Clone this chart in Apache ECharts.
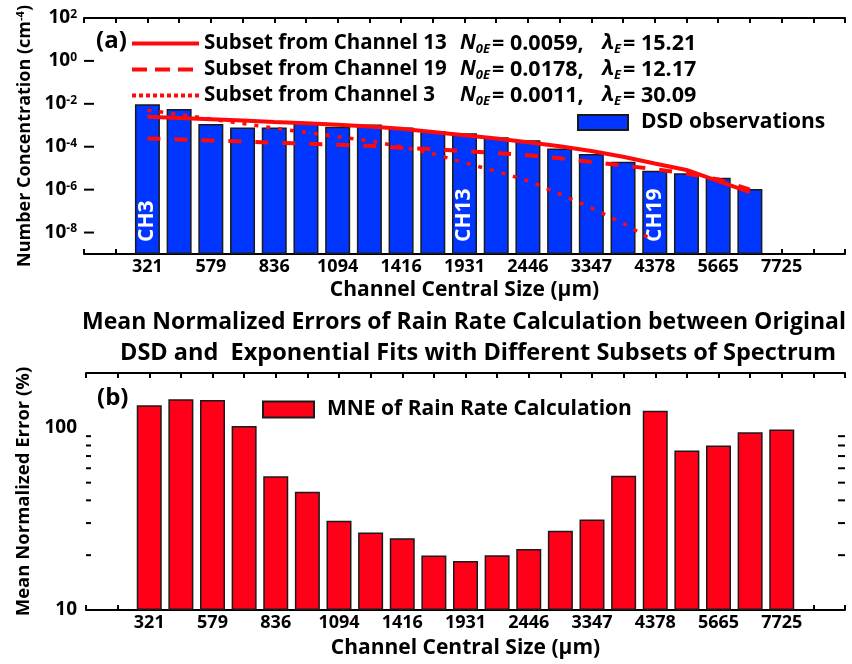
<!DOCTYPE html>
<html>
<head>
<meta charset="utf-8">
<script src="https://cdn.jsdelivr.net/npm/echarts@6/dist/echarts.min.js"></script>
<style>
  html, body { margin: 0; padding: 0; background: #fff; }
  #chart { width: 852px; height: 664px; }
</style>
</head>
<body>
<div id="chart"></div>
<script>
// Channel central sizes (µm) printed under every other channel slot
const sizeTicks = ['321', '579', '836', '1094', '1416', '1931', '2446', '3347', '4378', '5665', '7725'];

// Observed drop size distribution, channels 3..22 (cm^-4)
const dsdObs = [9.5e-3, 5.7e-3, 1.14e-3, 7.8e-4, 7.8e-4, 1.3e-3, 8.5e-4, 1.1e-3, 7.8e-4, 5.4e-4,
                4.2e-4, 2.8e-4, 2.0e-4, 8.3e-5, 4.6e-5, 2.0e-5, 7.6e-6, 5.8e-6, 3.6e-6, 1.07e-6];

// Exponential fits evaluated at channels 3..22 (cm^-4)
const fitCh13 = [2.51e-3, 2.19e-3, 1.91e-3, 1.66e-3, 1.41e-3, 1.23e-3, 1.05e-3, 8.7e-4, 6.9e-4, 4.9e-4,
                 3.4e-4, 2.4e-4, 1.6e-4, 1.05e-4, 6.3e-5, 3.4e-5, 1.66e-5, 8.3e-6, 2.5e-6, 7.6e-7];
const fitCh19 = [2.45e-4, 2.19e-4, 1.95e-4, 1.74e-4, 1.55e-4, 1.38e-4, 1.23e-4, 1.10e-4, 8.9e-5, 7.8e-5,
                 6.2e-5, 5.1e-5, 4.0e-5, 2.9e-5, 1.95e-5, 1.32e-5, 9.1e-6, 5.6e-6, 3.0e-6, 1.0e-6];
const fitCh3  = [5.0e-3, 3.2e-3, 1.95e-3, 1.2e-3, 7.4e-4, 4.7e-4, 2.95e-4, 1.9e-4, 1.0e-4, 4.7e-5,
                 1.8e-5, 7.1e-6, 2.6e-6, 6.3e-7, 1.4e-7, 2.7e-8, 4.0e-9];

// Legend text for the three fits
const fitNames  = ['Subset from Channel 13', 'Subset from Channel 19', 'Subset from Channel 3'];
const fitN0     = ['0.0059', '0.0178', '0.0011'];
const fitLambda = ['15.21', '12.17', '30.09'];

// Mean normalized error of rain rate (%), channels 3..23
const mneRainRate = [133, 143.6, 142, 102.5, 54.3, 44.6, 30.9, 26.6, 24.8, 19.9, 18.6,
                     20.0, 21.6, 27.2, 31.4, 54.6, 124, 75.2, 80, 94.7, 98];

// Channels marked inside their bars
const labeledChannels = [3, 13, 19];

// Decoration ticks for the log axes
const concMajorTicks = [1e2, 1, 1e-2, 1e-4, 1e-6, 1e-8];
const errMinorTicks = [20, 30, 40, 50, 60, 70, 80, 90];

const FONT = '"Open Sans", "Noto Sans", "DejaVu Sans", sans-serif';
const INK = '#000';
const BLUE = '#0036ff';
const RED_BAR = '#ff0018';
const RED_LINE = '#ff0a0a';

// 25 slots along x: one spare slot on each side, then one slot per channel
const slots = Array.from({ length: 25 }, (_, s) => 's' + s);
const slotLabel = {};
sizeTicks.forEach((t, k) => { slotLabel[slots[2 * k + 2]] = t; });
const FIRST_CHANNEL_SLOT = 2; // channel 3 sits in slot 2

function onSlots(values) {
  const out = slots.map(() => '-');
  values.forEach((v, i) => { out[FIRST_CHANNEL_SLOT + i] = v; });
  return out;
}

const dsdData = onSlots(dsdObs.map((v, i) => {
  const ch = i + 3;
  if (!labeledChannels.includes(ch)) return v;
  return { value: v, label: { show: true, formatter: 'CH' + ch } };
}));

function supLabel(v) {
  const e = Math.round(Math.log10(v));
  if (e % 2 !== 0) return '';
  return '{b|10}{sup|' + e + '}';
}

function xAxisCfg(gridIndex, position, withLabels, name, nameGap) {
  return {
    type: 'category', gridIndex, position, data: slots, boundaryGap: false,
    axisLine: { onZero: false, lineStyle: { color: INK, width: 2 } },
    axisTick: { inside: true, length: 5, interval: 0, lineStyle: { color: INK, width: 2 } },
    axisLabel: withLabels ? {
      interval: 0, margin: 4, formatter: s => slotLabel[s] || '',
      fontFamily: FONT, fontWeight: 'bold', fontSize: 18, color: INK
    } : { show: false },
    splitLine: { show: false },
    name: name || '', nameLocation: 'middle', nameGap: nameGap || 0,
    nameTextStyle: { fontFamily: FONT, fontWeight: 'bold', fontSize: 21, color: INK }
  };
}

function tickMarks(gridIdx, values, leftLen, rightLen) {
  return {
    type: 'custom', xAxisIndex: gridIdx * 2, yAxisIndex: gridIdx * 2, silent: true, clip: false, z: 6,
    data: values.map(v => [slots[0], v]),
    renderItem(params, api) {
      const cs = params.coordSys;
      const y = api.coord([api.value(0), api.value(1)])[1];
      const children = [];
      if (leftLen) children.push({ type: 'line', shape: { x1: cs.x, y1: y, x2: cs.x + leftLen, y2: y },
        style: { stroke: INK, lineWidth: 2 } });
      if (rightLen) children.push({ type: 'line', shape: { x1: cs.x + cs.width, y1: y, x2: cs.x + cs.width - rightLen, y2: y },
        style: { stroke: INK, lineWidth: 2 } });
      return { type: 'group', children };
    }
  };
}

const textBase = { fontFamily: FONT, fontWeight: 'bold', color: INK };

const lineDefs = [
  { data: fitCh13, type: 'solid', width: 4, legendType: 'solid' },
  { data: fitCh19, type: [13, 14], width: 4, legendType: [15, 8] },
  { data: fitCh3, type: [4, 8], width: 3.5, legendType: [4, 3] }
];

const chart = echarts.init(document.getElementById('chart'), null, { renderer: 'canvas' });

chart.setOption({
  backgroundColor: '#fff',
  animation: false,
  title: [
    { text: '(a)', left: 96, top: 29, padding: 0, textStyle: Object.assign({ fontSize: 24 }, textBase) },
    { text: '(b)', left: 97, top: 386, padding: 0, textStyle: Object.assign({ fontSize: 24 }, textBase) },
    { text: 'Mean Normalized Errors of Rain Rate Calculation between Original', left: 82, top: 311, padding: 0,
      textStyle: Object.assign({ fontSize: 23 }, textBase) },
    { text: 'DSD and  Exponential Fits with Different Subsets of Spectrum', left: 120, top: 341, padding: 0,
      textStyle: Object.assign({ fontSize: 23.5 }, textBase) }
  ],
  grid: [
    { left: 84, right: 7, top: 18, height: 236 },
    { left: 86, right: 7, top: 373, height: 237 }
  ],
  legend: [
    {
      data: fitNames.map((n, i) => ({
        name: n,
        itemStyle: { opacity: 0 },
        lineStyle: { type: lineDefs[i].legendType, width: 4, color: RED_LINE }
      })),
      orient: 'vertical', left: 130, top: 31, itemWidth: 67, itemHeight: 12, itemGap: 1, padding: 0,
      formatter: name => {
        const i = fitNames.indexOf(name);
        return '{a|' + name + '}{n|N}{sub|0E}{v|= ' + fitN0[i] + ',}{n|λ}{sub|E}{t|= ' + fitLambda[i] + '}';
      },
      textStyle: Object.assign({ fontSize: 21, lineHeight: 25, rich: {
        a: { fontFamily: FONT, fontWeight: 'bold', fontSize: 20.5, width: 256, color: INK },
        n: { fontFamily: FONT, fontWeight: 'bold', fontStyle: 'italic', fontSize: 21, color: INK },
        sub: { fontFamily: FONT, fontWeight: 'bold', fontStyle: 'italic', fontSize: 13, color: INK,
               verticalAlign: 'bottom', padding: [0, 2, 0, 0] },
        v: { fontFamily: FONT, fontWeight: 'bold', fontSize: 21.5, width: 110, color: INK },
        t: { fontFamily: FONT, fontWeight: 'bold', fontSize: 21.5, color: INK }
      } }, textBase)
    },
    {
      data: ['DSD observations'], left: 577, top: 112, itemWidth: 50, itemHeight: 15, padding: 0, icon: 'rect',
      textStyle: Object.assign({ fontSize: 21, padding: [0, 0, 0, 8] }, textBase)
    },
    {
      data: ['MNE of Rain Rate Calculation'], left: 262, top: 399, itemWidth: 51, itemHeight: 16, padding: 0, icon: 'rect',
      textStyle: Object.assign({ fontSize: 21, padding: [0, 0, 0, 8] }, textBase)
    }
  ],
  xAxis: [
    xAxisCfg(0, 'bottom', true, 'Channel Central Size (µm)', 26),
    xAxisCfg(0, 'top', false),
    xAxisCfg(1, 'bottom', true, 'Channel Central Size (µm)', 28),
    xAxisCfg(1, 'top', false)
  ],
  yAxis: [
    {
      type: 'log', logBase: 10, gridIndex: 0, position: 'left', min: 1e-9, max: 1e2, interval: 1,
      startValue: 1e-9,
      axisLine: { lineStyle: { color: INK, width: 2 } },
      axisTick: { inside: true, length: 5, lineStyle: { color: INK, width: 2 } },
      axisLabel: { formatter: supLabel, margin: 7, rich: {
        b: { fontFamily: FONT, fontWeight: 'bold', fontSize: 19, color: INK },
        sup: { fontFamily: FONT, fontWeight: 'bold', fontSize: 12, color: INK, verticalAlign: 'top' }
      } },
      splitLine: { show: false },
      name: '{t|Number Concentration (cm}{sup|-4}{t|)}', nameLocation: 'middle', nameGap: 50,
      nameTextStyle: { rich: {
        t: { fontFamily: FONT, fontWeight: 'bold', fontSize: 18, color: INK },
        sup: { fontFamily: FONT, fontWeight: 'bold', fontSize: 11, color: INK, verticalAlign: 'top' }
      } }
    },
    {
      type: 'log', logBase: 10, gridIndex: 0, position: 'right', min: 1e-9, max: 1e2, interval: 1,
      axisLine: { lineStyle: { color: INK, width: 2 } },
      axisTick: { inside: true, length: 7, lineStyle: { color: INK, width: 2 } },
      axisLabel: { show: false }, splitLine: { show: false }
    },
    {
      type: 'log', logBase: 10, gridIndex: 1, position: 'left', min: 10, max: 200, interval: 1,
      startValue: 10,
      axisLine: { lineStyle: { color: INK, width: 2 } },
      axisTick: { inside: true, length: 9, lineStyle: { color: INK, width: 2 } },
      axisLabel: { margin: 9, showMaxLabel: false, fontFamily: FONT, fontWeight: 'bold', fontSize: 19, color: INK },
      splitLine: { show: false },
      name: 'Mean Normalized Error (%)', nameLocation: 'middle', nameGap: 50,
      nameTextStyle: { fontFamily: FONT, fontWeight: 'bold', fontSize: 18.5, color: INK }
    },
    {
      type: 'log', logBase: 10, gridIndex: 1, position: 'right', min: 10, max: 200, interval: 1,
      axisLine: { lineStyle: { color: INK, width: 2 } },
      axisTick: { inside: true, length: 8, lineStyle: { color: INK, width: 2 } },
      axisLabel: { show: false }, splitLine: { show: false }
    }
  ],
  series: [
    {
      name: 'DSD observations', type: 'bar', xAxisIndex: 0, yAxisIndex: 0, data: dsdData,
      barWidth: 25, z: 2,
      itemStyle: { color: BLUE, borderColor: '#1a1a1a', borderWidth: 1.5 },
      label: {
        show: false, position: 'insideBottom', rotate: 90, align: 'left', verticalAlign: 'middle',
        distance: 12, color: '#fff', fontFamily: FONT, fontWeight: 'bold', fontSize: 21
      }
    },
    ...lineDefs.map((d, i) => ({
      name: fitNames[i], type: 'line', xAxisIndex: 0, yAxisIndex: 0, data: onSlots(d.data),
      symbol: 'none', z: 4,
      lineStyle: { color: RED_LINE, width: d.width, type: d.type }
    })),
    tickMarks(0, concMajorTicks, 10, 0),
    {
      name: 'MNE of Rain Rate Calculation', type: 'bar', xAxisIndex: 2, yAxisIndex: 2,
      data: onSlots(mneRainRate), barWidth: 25, z: 2,
      itemStyle: { color: RED_BAR, borderColor: '#1a1a1a', borderWidth: 1.5 }
    },
    tickMarks(1, errMinorTicks, 5, 7)
  ]
});
</script>
</body>
</html>
